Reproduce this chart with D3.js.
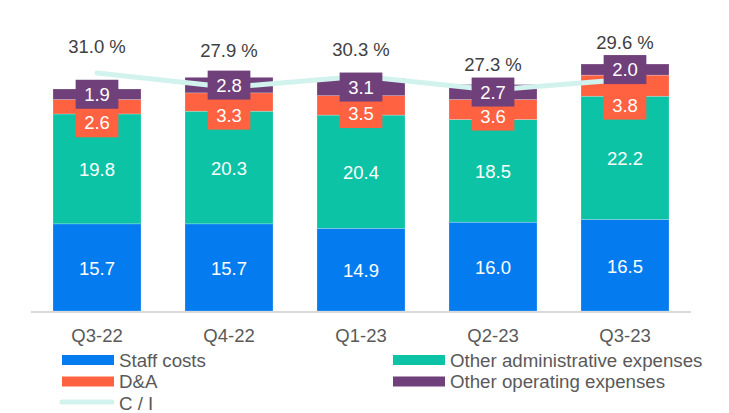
<!DOCTYPE html>
<html>
<head>
<meta charset="utf-8">
<script src="https://cdn.jsdelivr.net/npm/d3@7"></script>
<style>
  html, body { margin: 0; padding: 0; background: #ffffff; }
  svg { display: block; font-family: "Liberation Sans", Arial, sans-serif; }
</style>
</head>
<body>
<svg id="chart" width="729" height="413"></svg>
<script>
// ---- Data ----
const categories = ["Q3-22", "Q4-22", "Q1-23", "Q2-23", "Q3-23"];
const staffCosts = [15.7, 15.7, 14.9, 16.0, 16.5];
const otherAdmin = [19.8, 20.3, 20.4, 18.5, 22.2];
const depAmort = [2.6, 3.3, 3.5, 3.6, 3.8];
const otherOperating = [1.9, 2.8, 3.1, 2.7, 2.0];
const costIncome = [31.0, 27.9, 30.3, 27.3, 29.6];
const seriesNames = ["Staff costs", "Other administrative expenses", "D&A", "Other operating expenses", "C / I"];

// ---- Label placement tweaks (px, relative to the default rule) ----
const ciLabelNudge = [0, -10, 0, 1, -10];
const daLabelNudge = [0, 1.5, -2, -4.5, 7];

const colors = {
  staff: "#047cef",
  admin: "#0cc3a5",
  da: "#ff6240",
  other: "#70407a",
  ci: "#d2f3ed"
};
const FS = 18.5;

const svg = d3.select("#chart");

const x = d3.scaleBand().domain(categories).range([31, 691]).paddingInner(1 / 3).paddingOuter(1 / 6);
const y = d3.scaleLinear().domain([0, 50]).range([311, 33.5]);
const yCI = d3.scaleLinear().domain([20, 40]).range([123.6, 31.6]);

const keys = ["staff", "admin", "da", "other"];
const table = categories.map((c, i) => ({
  cat: c, staff: staffCosts[i], admin: otherAdmin[i], da: depAmort[i], other: otherOperating[i], ci: costIncome[i], i
}));
const stack = d3.stack().keys(keys)(table);

// bars
svg.append("g").selectAll("g").data(stack).join("g")
  .attr("fill", d => colors[d.key])
  .selectAll("rect").data(d => d).join("rect")
  .attr("x", d => x(d.data.cat))
  .attr("width", x.bandwidth())
  .attr("y", d => y(d[1]))
  .attr("height", d => y(d[0]) - y(d[1]))
  .attr("stroke", "rgba(255,255,255,0.35)")
  .attr("stroke-width", 0.6);

// axis line & labels
const xAxis = d3.axisBottom(x).tickSize(0).tickPadding(0);
const gx = svg.append("g").attr("transform", "translate(0,312)").call(xAxis);
gx.select(".domain").attr("stroke", "#d9d9d9").attr("stroke-width", 2).attr("d", "M31,0H691");
gx.selectAll(".tick text")
  .attr("y", 29.5)
  .attr("dy", 0)
  .attr("fill", "#595959")
  .attr("font-size", FS)
  .attr("font-family", "Liberation Sans, Arial, sans-serif");

// C/I line
const cx = c => x(c) + x.bandwidth() / 2;
const line = d3.line().x(d => cx(d.cat)).y(d => yCI(d.ci));
svg.append("path").datum(table)
  .attr("d", line)
  .attr("fill", "none")
  .attr("stroke", colors.ci)
  .attr("stroke-width", 5)
  .attr("stroke-linecap", "round")
  .attr("stroke-linejoin", "round");

// segment labels (staff, admin) plain white text
const segCenter = (layer, i) => (y(stack[layer][i][0]) + y(stack[layer][i][1])) / 2;
const fmt = d3.format(".1f");
[0, 1].forEach(layer => {
  svg.append("g").selectAll("text").data(table).join("text")
    .attr("x", d => cx(d.cat))
    .attr("y", d => segCenter(layer, d.i) + 7.5)
    .attr("text-anchor", "middle")
    .attr("fill", "#ffffff")
    .attr("font-size", FS)
    .text(d => fmt(d[keys[layer]]));
});

// boxed labels
function boxedLabel(g, cxv, cyv, txt, fill) {
  const t = g.append("text")
    .attr("x", cxv).attr("y", cyv + 6.6)
    .attr("text-anchor", "middle")
    .attr("fill", "#ffffff")
    .attr("font-size", FS)
    .text(txt);
  const w = t.node().getComputedTextLength() + 17;
  g.insert("rect", "text:last-child")
    .attr("x", cxv - w / 2).attr("y", cyv - 14.5)
    .attr("width", w).attr("height", 29)
    .attr("fill", fill);
}
const boxH = 29;
const gDA = svg.append("g");
const gOther = svg.append("g");
table.forEach(d => {
  const pc = segCenter(3, d.i);
  const oc = pc + boxH / 2 + 14 + daLabelNudge[d.i];
  boxedLabel(gDA.append("g"), cx(d.cat), oc, fmt(d.da), colors.da);
  boxedLabel(gOther.append("g"), cx(d.cat), pc, fmt(d.other), colors.other);
});

// C/I labels
svg.append("g").selectAll("text").data(table).join("text")
  .attr("x", d => cx(d.cat))
  .attr("y", d => yCI(d.ci) - 27 + ciLabelNudge[d.i] + 6.6)
  .attr("text-anchor", "middle")
  .attr("fill", "#404040")
  .attr("font-size", FS)
  .text(d => fmt(d.ci) + " %");

// legend
const legend = svg.append("g").attr("font-size", 18.7).attr("fill", "#595959");
const legendItems = [
  { name: seriesNames[0], type: "rect", color: colors.staff, sx: 62, tx: 119, base: 366.5 },
  { name: seriesNames[2], type: "rect", color: colors.da, sx: 62, tx: 119, base: 388 },
  { name: seriesNames[4], type: "line", color: colors.ci, sx: 62, tx: 119, base: 409.5 },
  { name: seriesNames[1], type: "rect", color: colors.admin, sx: 393, tx: 450, base: 366.5 },
  { name: seriesNames[3], type: "rect", color: colors.other, sx: 393, tx: 450, base: 388 }
];
legendItems.forEach(it => {
  if (it.type === "rect") {
    legend.append("rect").attr("x", it.sx).attr("y", it.base - 11.5).attr("width", 52).attr("height", 10).attr("fill", it.color);
  } else {
    legend.append("line").attr("x1", it.sx).attr("x2", it.sx + 50).attr("y1", it.base - 7.5).attr("y2", it.base - 7.5)
      .attr("stroke", it.color).attr("stroke-width", 5).attr("stroke-linecap", "round");
  }
  legend.append("text").attr("x", it.tx).attr("y", it.base).text(it.name);
});
</script>
</body>
</html>
